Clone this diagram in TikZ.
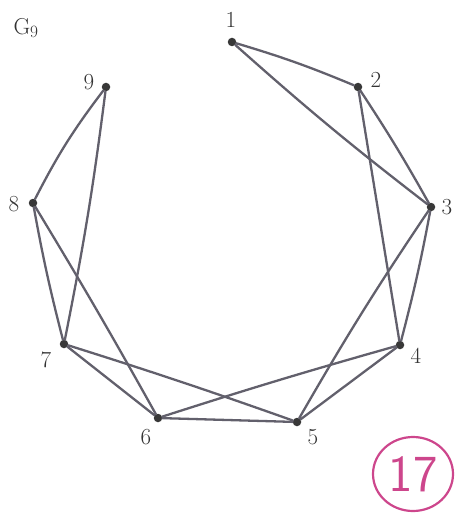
\documentclass[tikz,border=0pt]{standalone}
\usepackage{fontspec}
\usetikzlibrary{shapes.geometric}
\definecolor{edgegray}{RGB}{98,96,108}
\definecolor{stampcol}{RGB}{205,70,140}
\begin{document}
\begin{tikzpicture}[x=1pt,y=-1pt,
  vtx/.style={circle,fill=black!78,inner sep=0pt,minimum size=8.5pt},
  lab/.style={font=\fontsize{23}{23}\selectfont,text=black!80},
  edge/.style={draw=edgegray,line width=2.3pt,line cap=round}]
\useasboundingbox (0,0) rectangle (456,513);
\node[vtx] (v1) at (232,42) {};
\node[vtx] (v2) at (358,87) {};
\node[vtx] (v3) at (431,207) {};
\node[vtx] (v4) at (400,345) {};
\node[vtx] (v5) at (297,422) {};
\node[vtx] (v6) at (158,418) {};
\node[vtx] (v7) at (64,344) {};
\node[vtx] (v8) at (33,203) {};
\node[vtx] (v9) at (106,87) {};
\node[lab] (l1) at (231,20) {1};
\node[lab] (l2) at (376,80) {2};
\node[lab] (l3) at (447,207) {3};
\node[lab] (l4) at (416,356) {4};
\node[lab] (l5) at (313,437) {5};
\node[lab] (l6) at (146,437) {6};
\node[lab] (l7) at (46,360) {7};
\node[lab] (l8) at (14,204) {8};
\node[lab] (l9) at (89,82) {9};
\node[lab,anchor=west] (g) at (10,28) {G$_9$};
\draw[edge] (v1) to[bend left=3] (v2);
\draw[edge] (v1) to[bend right=2] (v3);
\draw[edge] (v2) to[bend left=2] (v3);
\draw[edge] (v2) -- (v4);
\draw[edge] (v3) to[bend left=2] (v4);
\draw[edge] (v3) to[bend right=2] (v5);
\draw[edge] (v4) -- (v5);
\draw[edge] (v4) to[bend right=1] (v6);
\draw[edge] (v5) -- (v6);
\draw[edge] (v5) to[bend right=1] (v7);
\draw[edge] (v6) -- (v7);
\draw[edge] (v6) to[bend right=1] (v8);
\draw[edge] (v7) to[bend left=2] (v8);
\draw[edge] (v7) to[bend right=2] (v9);
\draw[edge] (v8) to[bend left=5] (v9);
\node[ellipse,draw=stampcol,line width=2.2pt,minimum width=80pt,minimum height=74pt,inner sep=0pt,
  text=stampcol,font=\sffamily\fontsize{52}{52}\selectfont] (stamp) at (413,474) {17};
\end{tikzpicture}
\end{document}
